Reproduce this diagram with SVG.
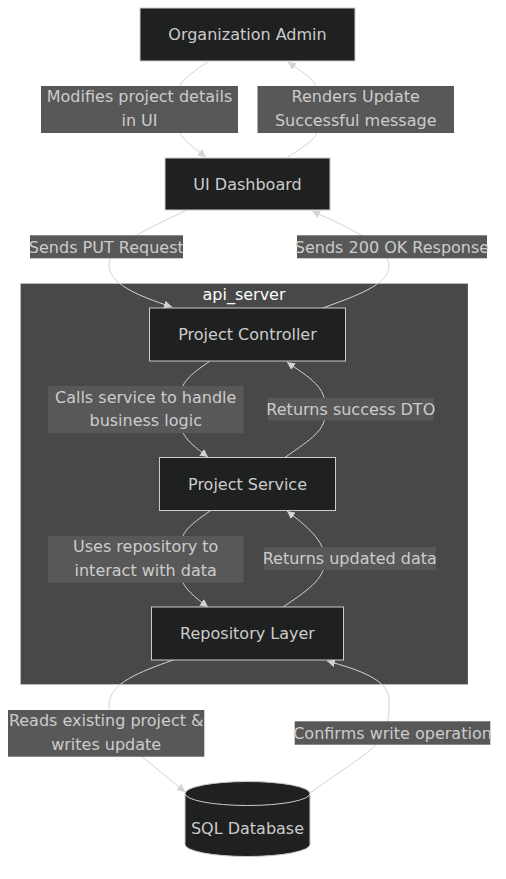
<svg xmlns="http://www.w3.org/2000/svg" width="506" height="879" viewBox="0 0 506 879">
<style>
.node rect,.node path{fill:#1f2020;stroke:#cccccc;stroke-width:1}
.nt{font-family:"DejaVu Sans",Verdana,sans-serif;font-size:16px;fill:#cccccc;text-anchor:middle}
.lbl rect{fill:#585858}
.edge{fill:none;stroke:#d3d3d3;stroke-width:1}
.ct{font-family:"DejaVu Sans",Verdana,sans-serif;font-size:16px;fill:#F9FFFE;text-anchor:middle}
</style>
<defs>
<marker id="arr" viewBox="0 0 10 10" refX="10" refY="5" markerWidth="8" markerHeight="8" markerUnits="userSpaceOnUse" orient="auto">
<path d="M0,0 L10,5 L0,10 z" fill="#d3d3d3"/>
</marker>
</defs>
<rect width="506" height="879" fill="#ffffff"/>
<g id="cluster-api_server">
<rect x="20.5" y="283.5" width="447.5" height="401" fill="#484848" stroke="rgba(255,255,255,0.25)"/>
<text class="ct" x="244" y="300">api_server</text>
</g>
<g id="edges">
<path class="edge" d="M209,61 C190,74 176,82 176,100 L176,120 C176,136 190,145 206,157" marker-end="url(#arr)"/>
<path class="edge" d="M287,158 C303,146 320,140 320,120 L320,100 C320,82 305,74 288,62" marker-end="url(#arr)"/>
<path class="edge" d="M187,210 C150,228 109,245 109,265 C109,283 135,295 172,307" marker-end="url(#arr)"/>
<path class="edge" d="M323,308 C355,296 389,285 389,266 C389,246 350,228 312,211" marker-end="url(#arr)"/>
<path class="edge" d="M210,361 C190,375 180,382 180,400 L180,420 C180,436 192,445 208,457" marker-end="url(#arr)"/>
<path class="edge" d="M285,457.5 C305,443 325,432 325,415 L325,405 C325,385 305,375 287,362" marker-end="url(#arr)"/>
<path class="edge" d="M210,511 C190,525 180,532 180,550 L180,570 C180,586 192,595 208,607" marker-end="url(#arr)"/>
<path class="edge" d="M283,607 C305,592 325,580 325,560 C325,540 305,525 287,511" marker-end="url(#arr)"/>
<path class="edge" d="M173,660 C140,672 109,683 109,705 C109,725 130,745 140,755 L185,792" marker-end="url(#arr)"/>
<path class="edge" d="M310,793 C340,771 372,752 380,740 C389,725 389,715 389,700 C389,680 360,670 327,661" marker-end="url(#arr)"/>
</g>
<g id="edge-labels">
<g class="lbl" id="l1"><rect x="41" y="86" width="197" height="47"/><text class="nt" x="139.5" y="102">Modifies project details</text><text class="nt" x="139.5" y="126">in UI</text></g>
<g class="lbl" id="l2"><rect x="257.5" y="86" width="196.5" height="47"/><text class="nt" x="355.7" y="102">Renders Update</text><text class="nt" x="355.7" y="126">Successful message</text></g>
<g class="lbl" id="l3"><rect x="30" y="235.3" width="153" height="23"/><text class="nt" x="106.3" y="252.5">Sends PUT Request</text></g>
<g class="lbl" id="l4"><rect x="297" y="235.3" width="190" height="23"/><text class="nt" x="392" y="252.5">Sends 200 OK Response</text></g>
<g class="lbl" id="l5"><rect x="47.7" y="386" width="196" height="47"/><text class="nt" x="145.7" y="402.5">Calls service to handle</text><text class="nt" x="145.7" y="426">business logic</text></g>
<g class="lbl" id="l6"><rect x="268" y="397.7" width="165.7" height="22.7"/><text class="nt" x="350.8" y="414.5">Returns success DTO</text></g>
<g class="lbl" id="l7"><rect x="47.7" y="536" width="196" height="46.7"/><text class="nt" x="145.7" y="552">Uses repository to</text><text class="nt" x="145.7" y="576">interact with data</text></g>
<g class="lbl" id="l8"><rect x="264" y="547" width="171.7" height="23.3"/><text class="nt" x="349.8" y="564">Returns updated data</text></g>
<g class="lbl" id="l9"><rect x="8" y="710" width="196.3" height="46.7"/><text class="nt" x="106.2" y="726">Reads existing project &amp;</text><text class="nt" x="106.2" y="750">writes update</text></g>
<g class="lbl" id="l10"><rect x="294.7" y="721.3" width="195.6" height="23.4"/><text class="nt" x="392.5" y="738.5">Confirms write operation</text></g>
</g>
<g class="node" id="OrgAdmin"><rect x="140" y="8" width="215" height="53"/><text class="nt" x="247.5" y="40">Organization Admin</text></g>
<g class="node" id="UIDashboard"><rect x="165" y="158" width="165" height="52"/><text class="nt" x="247.5" y="189.5">UI Dashboard</text></g>
<g class="node" id="ProjectController"><rect x="149.5" y="308" width="196" height="53"/><text class="nt" x="247.5" y="340">Project Controller</text></g>
<g class="node" id="ProjectService"><rect x="159.5" y="457.5" width="176" height="53"/><text class="nt" x="247.5" y="489.5">Project Service</text></g>
<g class="node" id="RepositoryLayer"><rect x="151.5" y="607" width="192" height="53"/><text class="nt" x="247.5" y="639">Repository Layer</text></g>
<g class="node" id="SQLDatabase"><path d="M185,793.5 a62.5,12 0 0 0 125,0 a62.5,12 0 0 0 -125,0 l0,51 a62.5,12 0 0 0 125,0 l0,-51"/><text class="nt" x="247.5" y="834">SQL Database</text></g>
</svg>
